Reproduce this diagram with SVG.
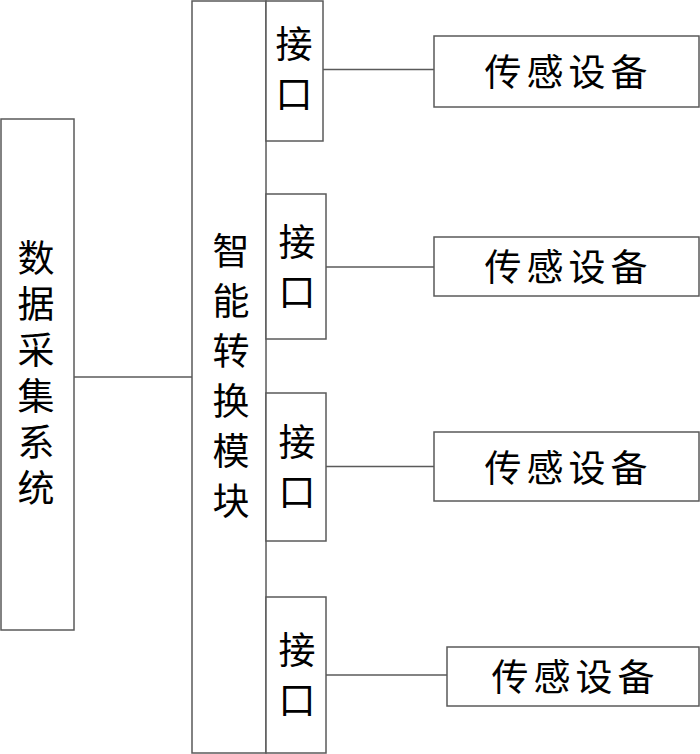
<svg xmlns="http://www.w3.org/2000/svg" width="700" height="754" viewBox="0 0 700 754">
<style>
.box{fill:#fff;stroke:#5a5a5a;stroke-width:1.5}
.ln{stroke:#5a5a5a;stroke-width:1.5;fill:none}
.t{font-family:"Noto Sans CJK SC","Noto Sans CJK JP",sans-serif;font-size:37px;fill:#000;text-anchor:middle}
.v{font-family:"Noto Sans CJK SC","Noto Sans CJK JP",sans-serif;font-size:37px;fill:#000;writing-mode:vertical-rl;text-orientation:upright}
</style>
<rect width="700" height="754" fill="#fff"/>
<g id="connectors">
<line class="ln" x1="74" y1="377" x2="192" y2="377"/>
<line class="ln" x1="323" y1="69.5" x2="434" y2="69.5"/>
<line class="ln" x1="326" y1="267" x2="434" y2="267"/>
<line class="ln" x1="326" y1="466.5" x2="434" y2="466.5"/>
<line class="ln" x1="326" y1="675" x2="447" y2="675"/>
</g>
<g id="data-system">
<rect class="box" x="1" y="119" width="73" height="511"/>
<text class="v" x="36" y="239.5" letter-spacing="9">数据采集系统</text>
</g>
<g id="smart-module">
<rect class="box" x="192" y="1" width="74" height="752"/>
<text class="v" x="231" y="232.5" letter-spacing="13">智能转换模块</text>
</g>
<g id="interface1">
<rect class="box" x="266" y="1" width="57" height="140"/>
<text class="v" x="294" y="25.5" letter-spacing="13">接口</text>
</g>
<g id="interface2">
<rect class="box" x="266" y="194" width="60" height="145"/>
<text class="v" x="297" y="223.5" letter-spacing="13">接口</text>
</g>
<g id="interface3">
<rect class="box" x="266" y="393" width="60" height="148"/>
<text class="v" x="297" y="423.5" letter-spacing="13">接口</text>
</g>
<g id="interface4">
<rect class="box" x="266" y="597" width="60" height="156"/>
<text class="v" x="297" y="631.5" letter-spacing="13">接口</text>
</g>
<g id="sensor1">
<rect class="box" x="434" y="36" width="265" height="71"/>
<text class="t" x="503 545 587 629" y="86">传感设备</text>
</g>
<g id="sensor2">
<rect class="box" x="434" y="237" width="265" height="59"/>
<text class="t" x="503 545 587 629" y="281">传感设备</text>
</g>
<g id="sensor3">
<rect class="box" x="434" y="432" width="265" height="69"/>
<text class="t" x="503 545 587 629" y="482">传感设备</text>
</g>
<g id="sensor4">
<rect class="box" x="447" y="647" width="252" height="59"/>
<text class="t" x="510 552 594 636" y="691">传感设备</text>
</g>
</svg>
